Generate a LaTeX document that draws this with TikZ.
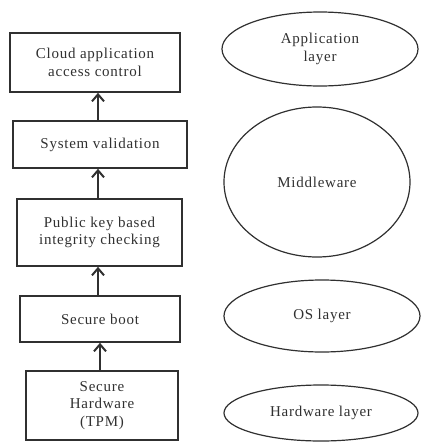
\documentclass[tikz,border=0pt]{standalone}
\usepackage{fontspec}
\setmainfont{Liberation Serif}[LetterSpace=5]
\usetikzlibrary{arrows.meta,shapes.geometric}
\definecolor{ink}{HTML}{303030}
\begin{document}
\begin{tikzpicture}[x=1pt,y=-1pt,
  stepbox/.style={draw=ink,line width=1.6pt,rectangle,align=center,inner sep=0pt,font=\fontsize{15}{17.5}\selectfont,text=ink},
  layer/.style={draw=ink,line width=1.2pt,ellipse,align=center,inner sep=0pt,font=\fontsize{15}{17.5}\selectfont,text=ink},
  arr/.style={draw=ink,line width=2pt,-{Straight Barb[length=7pt,width=12pt,line width=2pt]}}]
\useasboundingbox (0,0) rectangle (421,445);
\node[stepbox,minimum width=170pt,minimum height=59pt] (b1) at (95,62.5) {Cloud application\\access control};
\node[stepbox,minimum width=174pt,minimum height=47pt] (b2) at (100,144.5) {System validation};
\node[stepbox,minimum width=165pt,minimum height=67pt] (b3) at (99.5,232.5) {Public key based\\integrity checking};
\node[stepbox,minimum width=160pt,minimum height=46pt] (b4) at (100,319) {Secure boot};
\node[stepbox,minimum width=152pt,minimum height=69pt] (b5) at (102,405.5) {Secure\\Hardware\\(TPM)};
\node[layer,minimum width=196pt,minimum height=74pt] (e1) at (320,49) {Application\\layer};
\node[layer,minimum width=186pt,minimum height=150pt] (e2) at (317,182) {Middleware};
\node[layer,minimum width=196pt,minimum height=72pt] (e3) at (322,316) {OS layer};
\node[layer,minimum width=194pt,minimum height=56pt] (e4) at (321,413) {Hardware layer};
\coordinate (ax) at (98,0);
\coordinate (bx) at (100,0);
\draw[arr] (b2.north -| ax) -- (b1.south -| ax);
\draw[arr] (b3.north -| ax) -- (b2.south -| ax);
\draw[arr] (b4.north -| ax) -- (b3.south -| ax);
\draw[arr] (b5.north -| bx) -- (b4.south -| bx);
\end{tikzpicture}
\end{document}
